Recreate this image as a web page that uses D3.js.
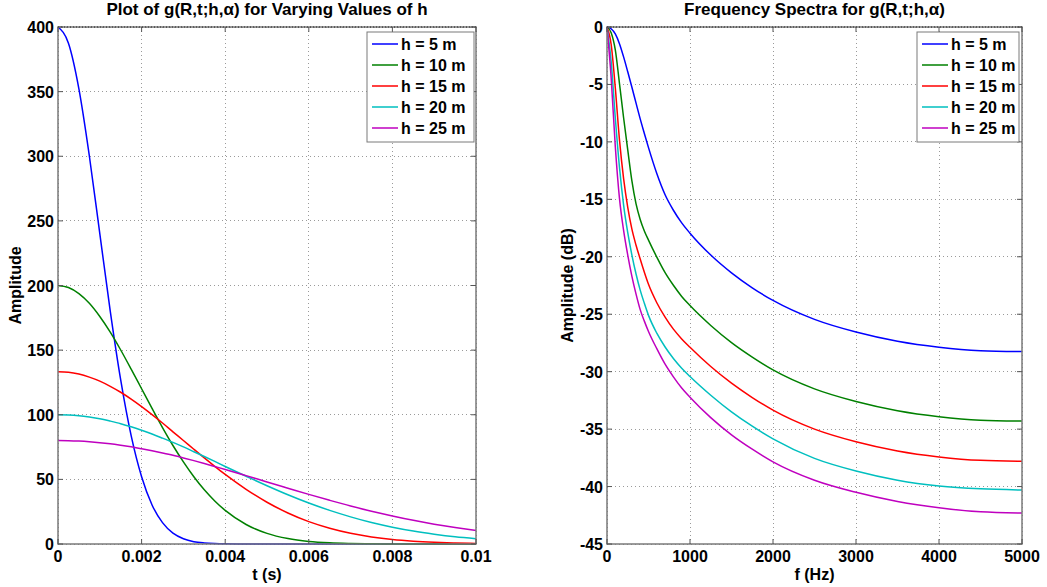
<!DOCTYPE html>
<html><head><meta charset="utf-8">
<script src="https://cdn.jsdelivr.net/npm/d3@7"></script>
<style>
html,body{margin:0;padding:0;background:#fff;}
svg text{font-family:"Liberation Sans",Arial,Helvetica,sans-serif;font-weight:bold;fill:#000;}
</style></head>
<body>
<svg id="chart" width="1047" height="587"></svg>
<script>
// ---------- data ----------
const seriesLabels = ["h = 5 m","h = 10 m","h = 15 m","h = 20 m","h = 25 m"];
const seriesColors = ["#0000ff","#008000","#ff0000","#00bfbf","#bf00bf"];

// time axis samples (s)
const tVals = [0,0.00025,0.0005,0.00075,0.001,0.00125,0.0015,0.00175,0.002,0.00225,0.0025,0.00275,0.003,0.00325,0.0035,0.00375,0.004,
  0.0045,0.005,0.0055,0.006,0.0065,0.007,0.0075,0.008,0.0085,0.009,0.0095,0.01];
const amp_h5  = [400,387.4,352.1,300.2,240.2,180.2,126.9,83.8,52.0,30.2,16.5,8.4,4.1,1.8,0.8,0.3,0.1, 0,0,0,0,0,0,0,0,0,0,0,0];
const amp_h10 = [200,198.4,193.7,186.2,176.0,163.9,150.1,135.3,120.1,104.9,90.1,76.2,63.5,52.0,41.9,33.3,26.0, 15.1,8.2,4.2,2.0,0.9,0.4,0.15,0.06,0,0,0,0];
const amp_h15 = [133.3,132.9,131.5,129.1,126.0,122.0,117.4,112.1,106.3,100.1,93.6,86.8,80.1,73.3,66.6,60.1,53.8, 42.3,32.3,24.0,17.3,12.2,8.3,5.5,3.5,2.2,1.35,0.8,0.46];
const amp_h20 = [100,99.8,99.2,98.2,96.9,95.1,93.1,90.7,88.0,85.1,81.9,78.6,75.1,71.4,67.7,63.9,60.0, 52.4,45.1,38.1,31.7,26.0,21.0,16.6,13.0,10.0,7.6,5.6,4.1];
const amp_h25 = [80,79.9,79.6,79.1,78.4,77.5,76.4,75.2,73.7,72.1,70.4,68.6,66.6,64.5,62.3,60.0,57.7, 52.9,48.0,43.2,38.4,33.8,29.4,25.4,21.7,18.3,15.3,12.7,10.4];

// frequency axis samples (Hz)
const fVals = [0,50,100,150,200,250,300,350,400,450,500,600,700,800,900,1000,1250,1500,1750,2000,2500,3000,3500,4000,4500,5000];
const db_h5  = [0,-0.15,-0.6,-1.45,-2.6,-3.9,-5.25,-6.63,-8.0,-9.27,-10.5,-12.75,-14.6,-15.95,-17.05,-17.95,-19.85,-21.4,-22.7,-23.8,-25.45,-26.55,-27.35,-27.87,-28.17,-28.25];
const db_h10 = [0,-0.5,-2.0,-4.9,-7.9,-10.7,-13.4,-15.4,-16.75,-17.75,-18.55,-20.03,-21.38,-22.48,-23.45,-24.25,-25.98,-27.47,-28.73,-29.85,-31.5,-32.6,-33.4,-33.92,-34.22,-34.3];
const db_h15 = [0,-1.5,-5.3,-9.8,-13.2,-15.7,-17.6,-19.0,-20.2,-21.35,-22.4,-24.0,-25.25,-26.3,-27.15,-27.88,-29.55,-31.0,-32.25,-33.35,-35.0,-36.1,-36.9,-37.42,-37.72,-37.8];
const db_h20 = [0,-3.0,-7.9,-12.2,-15.5,-17.9,-19.85,-21.5,-22.9,-24.05,-25.1,-26.65,-27.85,-28.85,-29.7,-30.42,-32.05,-33.5,-34.75,-35.85,-37.55,-38.65,-39.45,-39.95,-40.2,-40.3];
const db_h25 = [0,-4.4,-10.4,-14.9,-17.7,-19.85,-21.7,-23.25,-24.6,-25.6,-26.5,-28.0,-29.35,-30.45,-31.42,-32.22,-34.0,-35.5,-36.75,-37.85,-39.45,-40.5,-41.3,-41.85,-42.2,-42.3];

// ticks
const tTicks = [0,0.002,0.004,0.006,0.008,0.01];
const tTickLabels = ["0","0.002","0.004","0.006","0.008","0.01"];
const ampTicks = [0,50,100,150,200,250,300,350,400];
const fTicks = [0,1000,2000,3000,4000,5000];
const dbTicks = [0,-5,-10,-15,-20,-25,-30,-35,-40,-45];

// ---------- drawing ----------
const svg = d3.select("#chart");

function drawPanel(cfg){
  const g = svg.append("g");
  const x = d3.scaleLinear().domain(cfg.xDomain).range([cfg.x0, cfg.x1]);
  const y = d3.scaleLinear().domain(cfg.yDomain).range([cfg.y1, cfg.y0]);

  // grid
  const grid = g.append("g").attr("stroke","#9a9a9a").attr("stroke-width",1).attr("stroke-dasharray","1,3").attr("shape-rendering","crispEdges");
  cfg.xTicks.forEach(v=>{ grid.append("line").attr("x1",x(v)).attr("x2",x(v)).attr("y1",cfg.y0).attr("y2",cfg.y1); });
  cfg.yTicks.forEach(v=>{ grid.append("line").attr("x1",cfg.x0).attr("x2",cfg.x1).attr("y1",y(v)).attr("y2",y(v)); });

  // lines
  const line = d3.line().x(d=>x(d[0])).y(d=>y(d[1])).curve(d3.curveMonotoneX);
  cfg.series.forEach((s,i)=>{
    const pts = cfg.xs.map((xv,j)=>[xv,s[j]]);
    g.append("path").attr("d",line(pts)).attr("fill","none").attr("stroke",seriesColors[i]).attr("stroke-width",1.5);
  });

  // box
  g.append("rect").attr("x",cfg.x0).attr("y",cfg.y0).attr("width",cfg.x1-cfg.x0).attr("height",cfg.y1-cfg.y0)
    .attr("fill","none").attr("stroke","#7a7a7a").attr("stroke-width",1.5);
  g.append("line").attr("x1",cfg.x0).attr("x2",cfg.x1).attr("y1",cfg.y0).attr("y2",cfg.y0)
    .attr("stroke","#222").attr("stroke-width",1).attr("stroke-dasharray","1,2");

  // tick marks
  const tk = g.append("g").attr("stroke","#555").attr("stroke-width",1);
  const L = 5;
  cfg.xTicks.forEach(v=>{
    tk.append("line").attr("x1",x(v)).attr("x2",x(v)).attr("y1",cfg.y1).attr("y2",cfg.y1-L);
    tk.append("line").attr("x1",x(v)).attr("x2",x(v)).attr("y1",cfg.y0).attr("y2",cfg.y0+L);
  });
  cfg.yTicks.forEach(v=>{
    tk.append("line").attr("x1",cfg.x0).attr("x2",cfg.x0+L).attr("y1",y(v)).attr("y2",y(v));
    tk.append("line").attr("x1",cfg.x1).attr("x2",cfg.x1-L).attr("y1",y(v)).attr("y2",y(v));
  });

  // tick labels
  cfg.xTicks.forEach((v,i)=>{
    g.append("text").attr("x",x(v)).attr("y",cfg.y1+18).attr("text-anchor","middle")
      .attr("font-size",16).text(cfg.xLabels[i]);
  });
  cfg.yTicks.forEach((v,i)=>{
    g.append("text").attr("x",cfg.x0-4).attr("y",y(v)+6).attr("text-anchor","end")
      .attr("font-size",16).text(cfg.yLabels[i]);
  });

  // titles
  const cx = (cfg.x0+cfg.x1)/2;
  g.append("text").attr("x",cx).attr("y",15).attr("text-anchor","middle").attr("font-size",17).text(cfg.title);
  g.append("text").attr("x",cx).attr("y",580).attr("text-anchor","middle").attr("font-size",16).text(cfg.xTitle);
  g.append("text").attr("transform",`translate(${cfg.yTitleX},${(cfg.y0+cfg.y1)/2}) rotate(-90)`)
    .attr("text-anchor","middle").attr("font-size",16).text(cfg.yTitle);

  // legend
  const lg = g.append("g");
  lg.append("rect").attr("x",cfg.legX).attr("y",32).attr("width",cfg.legW).attr("height",110)
    .attr("fill","#fff").attr("stroke","#7a7a7a").attr("stroke-width",1);
  seriesLabels.forEach((lab,i)=>{
    const yy = 44 + i*21;
    lg.append("line").attr("x1",cfg.legX+5).attr("x2",cfg.legX+31).attr("y1",yy).attr("y2",yy)
      .attr("stroke",seriesColors[i]).attr("stroke-width",1.5);
    lg.append("text").attr("x",cfg.legX+34).attr("y",yy+6).attr("font-size",16).text(lab);
  });
}

drawPanel({
  x0:58, x1:476, y0:27, y1:544,
  xDomain:[0,0.01], yDomain:[0,400],
  xs:tVals, series:[amp_h5,amp_h10,amp_h15,amp_h20,amp_h25],
  xTicks:tTicks, xLabels:tTickLabels,
  yTicks:ampTicks, yLabels:ampTicks.map(String),
  title:"Plot of g(R,t;h,\u03b1) for Varying Values of h",
  xTitle:"t (s)", yTitle:"Amplitude", yTitleX:21,
  legX:367, legW:107
});

drawPanel({
  x0:607, x1:1022, y0:27, y1:544,
  xDomain:[0,5000], yDomain:[-45,0],
  xs:fVals, series:[db_h5,db_h10,db_h15,db_h20,db_h25],
  xTicks:fTicks, xLabels:fTicks.map(String),
  yTicks:dbTicks, yLabels:dbTicks.map(String),
  title:"Frequency Spectra for g(R,t;h,\u03b1)",
  xTitle:"f (Hz)", yTitle:"Amplitude (dB)", yTitleX:573,
  legX:917, legW:102
});
</script>
</body></html>
